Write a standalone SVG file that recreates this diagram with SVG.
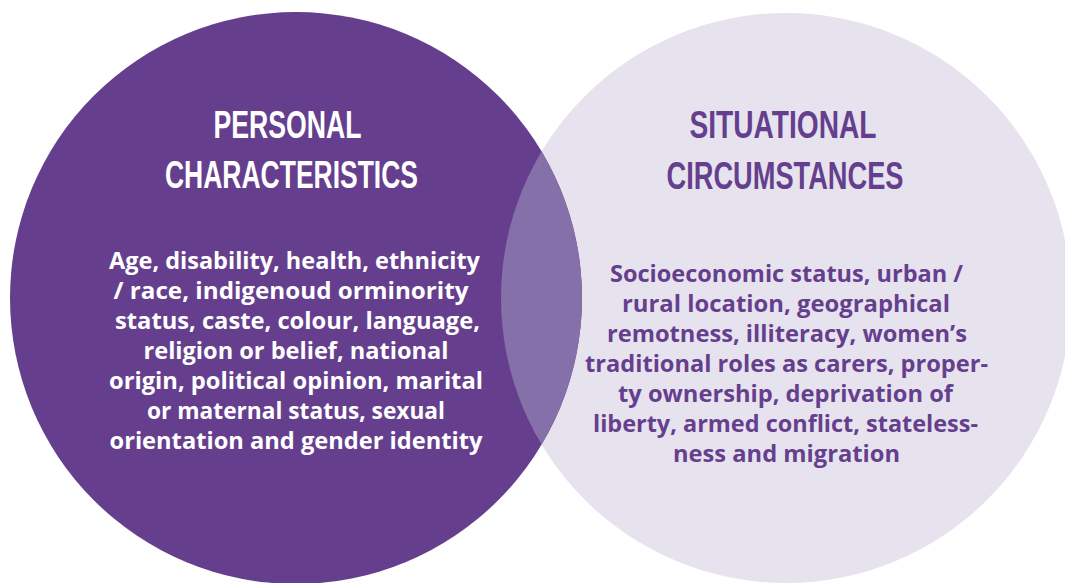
<svg xmlns="http://www.w3.org/2000/svg" width="1065" height="583" viewBox="0 0 1065 583">
<style>
.title{font-family:"Liberation Sans Narrow","Liberation Sans",Arial,sans-serif;font-weight:bold;font-size:38px;text-anchor:middle}
.body{font-family:"Open Sans","Liberation Sans",Arial,sans-serif;font-weight:bold;font-size:22.5px;text-anchor:middle}
.w{fill:#ffffff}
.p{fill:#653f8e}
</style>
<defs>
<clipPath id="rightClip"><circle cx="786" cy="298" r="285"/></clipPath>
</defs>
<rect width="1065" height="583" fill="#ffffff"/>
<g id="situational">
<circle cx="786" cy="298" r="285" fill="#e6e3ee"/>
</g>
<g id="personal">
<circle cx="296" cy="298" r="286" fill="#653f8e"/>
</g>
<g id="overlap">
<circle cx="296" cy="298" r="286" fill="#8670aa" clip-path="url(#rightClip)"/>
</g>
<g id="personal-text">
<text class="title w" x="287.5" y="138" textLength="148" lengthAdjust="spacingAndGlyphs">PERSONAL</text>
<text class="title w" x="291.5" y="188" textLength="253" lengthAdjust="spacingAndGlyphs">CHARACTERISTICS</text>
<text class="body w" x="294.5" y="269" textLength="371" lengthAdjust="spacingAndGlyphs">Age, disability, health, ethnicity</text>
<text class="body w" x="291" y="299" textLength="355" lengthAdjust="spacingAndGlyphs">/ race, indigenoud orminority</text>
<text class="body w" x="297.5" y="329" textLength="365" lengthAdjust="spacingAndGlyphs">status, caste, colour, language,</text>
<text class="body w" x="296" y="359" textLength="305" lengthAdjust="spacingAndGlyphs">religion or belief, national</text>
<text class="body w" x="296" y="389" textLength="374" lengthAdjust="spacingAndGlyphs">origin, political opinion, marital</text>
<text class="body w" x="296" y="419" textLength="298" lengthAdjust="spacingAndGlyphs">or maternal status, sexual</text>
<text class="body w" x="296" y="449" textLength="373" lengthAdjust="spacingAndGlyphs">orientation and gender identity</text>
</g>
<g id="situational-text">
<text class="title p" x="783" y="138" textLength="187" lengthAdjust="spacingAndGlyphs">SITUATIONAL</text>
<text class="title p" x="785" y="189" textLength="237" lengthAdjust="spacingAndGlyphs">CIRCUMSTANCES</text>
<text class="body p" x="786.5" y="282" textLength="353" lengthAdjust="spacingAndGlyphs">Socioeconomic status, urban /</text>
<text class="body p" x="786" y="312" textLength="328" lengthAdjust="spacingAndGlyphs">rural location, geographical</text>
<text class="body p" x="787" y="342" textLength="360" lengthAdjust="spacingAndGlyphs">remotness, illiteracy, women’s</text>
<text class="body p" x="786.5" y="372" textLength="403" lengthAdjust="spacingAndGlyphs">traditional roles as carers, proper-</text>
<text class="body p" x="785.5" y="402" textLength="335" lengthAdjust="spacingAndGlyphs">ty ownership, deprivation of</text>
<text class="body p" x="785.5" y="432" textLength="385" lengthAdjust="spacingAndGlyphs">liberty, armed conflict, stateless-</text>
<text class="body p" x="786.5" y="462" textLength="227" lengthAdjust="spacingAndGlyphs">ness and migration</text>
</g>
</svg>
